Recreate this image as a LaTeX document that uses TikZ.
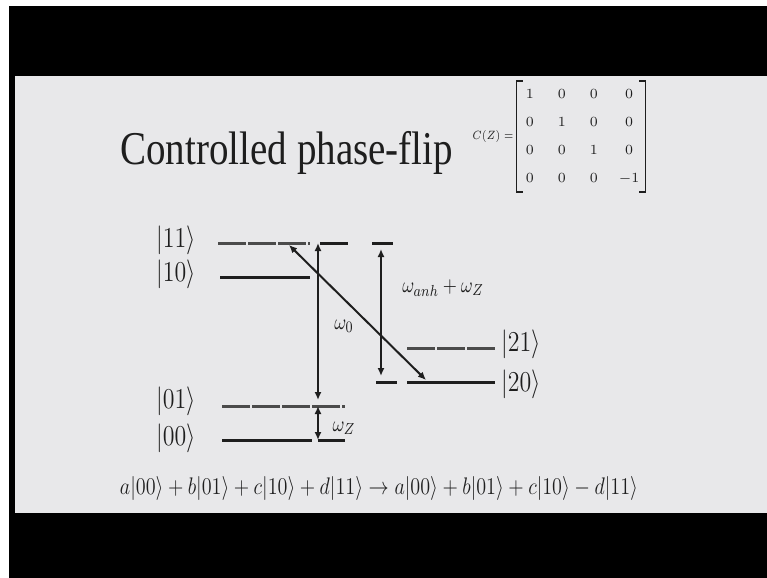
\documentclass[tikz,border=0pt]{standalone}
\usepackage{amsmath}
\usepackage{fontspec}
\setmainfont{Liberation Serif}
\usetikzlibrary{arrows.meta,positioning,calc,matrix}
\newcommand{\squeeze}[2][0.83]{\scalebox{#1}[1]{#2}}

\begin{document}
\begin{tikzpicture}[
    x=0.5pt, y=0.5pt,
    >={Latex[length=4pt,width=3.5pt]},
    level/.style={line width=1.5pt,draw=ink},
    softlevel/.style={level,draw=ink!80,dash pattern=on 14pt off 1pt},
    trans/.style={<->,line width=1pt,draw=ink},
    ket/.style={text=ink,font=\fontsize{14.5}{17}\selectfont,inner sep=0pt},
    freq/.style={text=ink,font=\fontsize{11}{13}\selectfont,inner sep=0pt},
    title/.style={text=ink,font=\fontsize{23.5}{28}\selectfont,inner sep=0pt},
    eqn/.style={text=ink,font=\fontsize{13}{15}\selectfont,inner sep=0pt},
    entry/.style={text=ink,font=\fontsize{7}{8}\selectfont,inner sep=0pt,minimum width=7pt,minimum height=6pt},
    bracket/.style={line width=0.6pt,draw=ink},
]

\definecolor{slide}{RGB}{232,232,234}
\definecolor{ink}{RGB}{30,30,30}

% ---------- frame: white edge, black bars, grey slide ----------
\fill[white] (0,0) rectangle (767,-578);
\fill[black] (9,-6) rectangle (767,-578);
\fill[slide] (15,-76) rectangle (767,-513);
\useasboundingbox (0,0) rectangle (767,-578);

% ---------- title and gate matrix ----------
\node[title,anchor=base west] (title) at (120,-164) {\squeeze{Controlled phase-flip}};
\matrix (czmatrix) [matrix of math nodes,nodes={entry},column sep=9pt,row sep=8pt,inner sep=0pt,outer sep=0pt] at (581,-136.5) {
  1 & 0 & 0 & 0 \\
  0 & 1 & 0 & 0 \\
  0 & 0 & 1 & 0 \\
  0 & 0 & 0 & -1 \\
};
\draw[bracket] ($(czmatrix.north west)+(0,7)$) -- ++(-6,0) |- ($(czmatrix.south west)+(0,-7)$);
\draw[bracket] ($(czmatrix.north east)+(0,7)$) -- ++(6,0) |- ($(czmatrix.south east)+(0,-7)$);
\node[text=ink,font=\fontsize{6}{7}\selectfont,inner sep=0pt,left=4.5pt of czmatrix] (czlabel) {\squeeze{$C(Z)=$}};

% ---------- energy levels ----------
\draw[softlevel] (218,-243) -- (310,-243);
\draw[level] (320,-243) -- (348,-243);
\draw[level] (372,-243) -- (393,-243);
\draw[level] (220,-277) -- (310,-277);
\draw[softlevel] (222,-406) -- (345,-406);
\draw[level] (222,-440) -- (312,-440);
\draw[level] (318,-440) -- (345,-440);
\draw[softlevel] (407,-348) -- (495,-348);
\draw[level] (376,-382) -- (397,-382);
\draw[level] (407,-382) -- (495,-382);

% ---------- state labels ----------
\node[ket] (k11) at (176,-240) {\squeeze{$|11\rangle$}};
\node[ket] (k10) at (176,-274) {\squeeze{$|10\rangle$}};
\node[ket] (k01) at (176,-401) {\squeeze{$|01\rangle$}};
\node[ket] (k00) at (176,-438) {\squeeze{$|00\rangle$}};
\node[ket] (k21) at (521,-344) {\squeeze{$|21\rangle$}};
\node[ket] (k20) at (521,-384) {\squeeze{$|20\rangle$}};

% ---------- transitions ----------
\coordinate (w0top) at (318,-243);
\coordinate (w0bot) at (318,-400);
\coordinate (wztop) at (318,-406);
\coordinate (wzbot) at (318,-440);
\coordinate (wstop) at (381,-249);
\coordinate (wsbot) at (381,-376);
\coordinate (dgtop) at (289,-245);
\coordinate (dgbot) at (426,-380);

\draw[trans] (w0top) -- (w0bot);
\draw[trans] (wztop) -- (wzbot);
\draw[trans] (wstop) -- (wsbot);
\draw[trans] (dgtop) -- (dgbot);

\node[freq] (w0) at (344,-326) {\squeeze{$\omega_0$}};
\node[freq] (wz) at (344,-428) {\squeeze{$\omega_Z$}};
\node[freq] (ws) at (443,-288) {\squeeze{$\omega_{anh}+\omega_Z$}};

% ---------- state map ----------
\node[eqn] (stateeq) at (379,-488)
  {\squeeze[0.84]{$a|00\rangle+b|01\rangle+c|10\rangle+d|11\rangle\rightarrow a|00\rangle+b|01\rangle+c|10\rangle-d|11\rangle$}};

\end{tikzpicture}
\end{document}
